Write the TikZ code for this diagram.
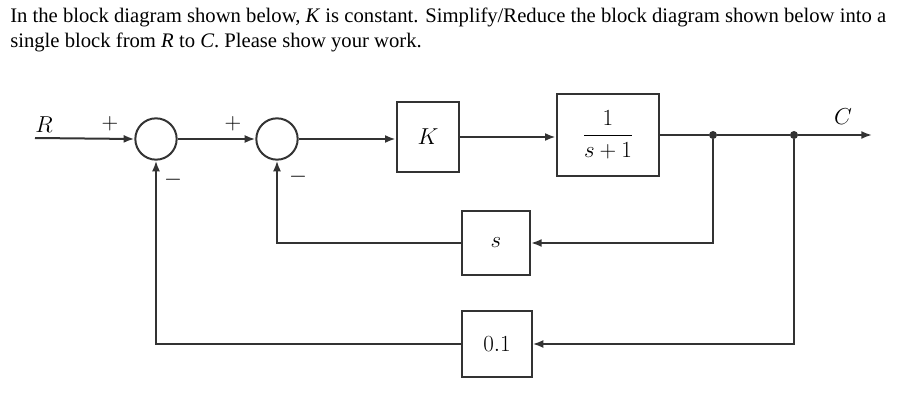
\documentclass[tikz,border=0pt]{standalone}
\usepackage{amsmath,amssymb}
\usepackage{fontspec}
\newfontfamily\headfont{Liberation Serif}
\usepackage{tikz}
\usetikzlibrary{arrows.meta,positioning,calc}

\begin{document}
\begin{tikzpicture}[
    x=0.75pt, y=-0.75pt,
    block/.style={draw=black!80, line width=1.5pt, minimum width=#1, align=center, font=\fontsize{19}{22}\selectfont, fill=white},
    block/.default=50pt,
    summer/.style={draw=black!80, line width=1.5pt, circle, minimum size=31pt, inner sep=0pt},
    arr/.style={-{Latex[length=8pt,width=6pt]}, line width=1.5pt, draw=black!80},
    wire/.style={line width=1.5pt, draw=black!80},
    sgn/.style={font=\fontsize{19}{22}\selectfont, inner sep=0pt},
    dot/.style={circle, fill=black!80, inner sep=0pt, minimum size=6pt}
]
\useasboundingbox (0,0) rectangle (912,406);

\node[anchor=north west, align=left, inner sep=0pt, font=\headfont\fontsize{15.5}{18.8}\selectfont] (title) at (10,8)
  {In the block diagram shown below, \textit{K} is constant. Simplify/Reduce the block diagram shown below into a\\
   single block from \textit{R} to \textit{C}. Please show your work.};

\node[summer] (sum1) at (156,139) {};
\node[summer] (sum2) at (277,139) {};
\node[block=47pt, minimum height=52pt] (k) at (428,137) {$K$};
\node[block=77pt, minimum height=61pt] (g) at (608,135) {$\dfrac{1}{s+1}$};
\node[block=51pt, minimum height=48pt] (h1) at (496,243) {$s$};
\node[block=52pt, minimum height=49pt] (h2) at (497,344) {$0.1$};

\coordinate (in) at (35,138);
\coordinate (out) at (872,135);
\node[dot] (j1) at (713,135) {};
\node[dot] (j2) at (794,135) {};

\node[sgn] (lr) at (44,125) {$R$};
\node[sgn] (lc) at (843,117) {$C$};
\node[sgn] (p1) at (110,124) {$+$};
\node[sgn] (p2) at (233,124) {$+$};
\node[sgn] (m1) at (173,180) {$-$};
\node[sgn] (m2) at (298,177) {$-$};

\draw[arr] (in) -- (sum1.west);
\draw[arr] (sum1.east) -- (sum2.west);
\draw[arr] (sum2.east) -- (sum2.east -| k.west);
\draw[arr] (k.east) -- (k.east -| g.west);
\draw[wire] (g.east) -- (j1);
\draw[wire] (j1) -- (j2);
\draw[arr] (j2) -- (out);

\draw[arr] (j1) |- (h1.east);
\draw[arr] (h1.west) -| (sum2.south);
\draw[arr] (j2) |- (h2.east);
\draw[arr] (h2.west) -| (sum1.south);
\end{tikzpicture}
\end{document}
